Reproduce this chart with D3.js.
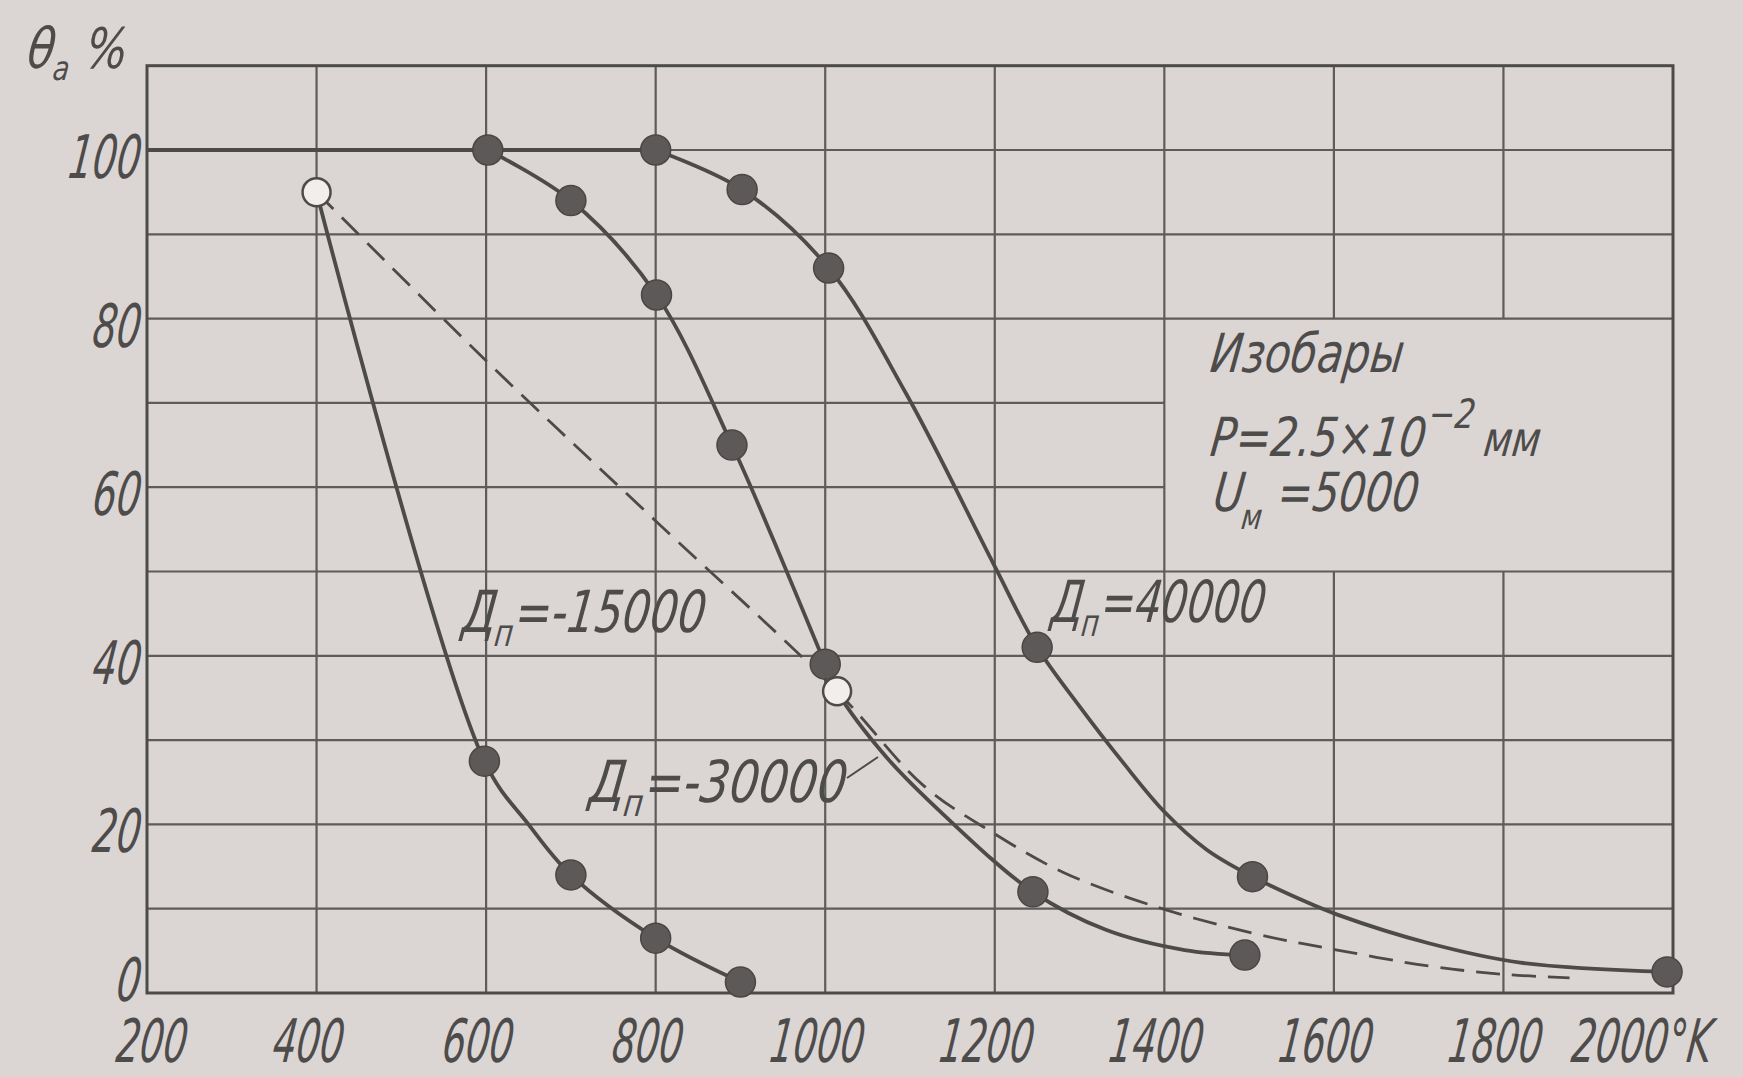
<!DOCTYPE html>
<html lang="ru">
<head>
<meta charset="UTF-8">
<title>Изобары θa</title>
<script src="https://d3js.org/d3.v7.min.js"></script>
<style>
  body { margin: 0; background: #dbd6d3; }
  svg text { font-family: "DejaVu Sans", sans-serif; font-style: italic; fill: #4e4b4b; }
</style>
</head>
<body>
<svg width="1743" height="1077"></svg>
<script>
// оси
const xTicks = [200, 400, 600, 800, 1000, 1200, 1400, 1600, 1800, 2000];
const xTickLabels = ["200", "400", "600", "800", "1000", "1200", "1400", "1600", "1800", "2000°K"];
const yTicks = [0, 20, 40, 60, 80, 100];
const yGrid = [10, 20, 30, 40, 50, 60, 70, 80, 90, 100];

// общая горизонталь 100 %
const plateau_T   = [200, 800];
const plateau_val = [100, 100];

// Дп = 40000
const lineA_T   = [800, 902, 1004, 1096, 1198, 1250, 1300, 1350, 1400, 1450, 1504, 1565, 1604, 1712, 1820, 1993];
const lineA_val = [100, 95.3, 86, 71, 51, 41, 34, 27.5, 21.5, 17, 13.8, 10.9, 9.3, 5.9, 3.6, 2.5];
const dotsA_T   = [800, 902, 1004, 1250, 1504, 1993];
const dotsA_val = [100, 95.3, 86, 41, 13.8, 2.5];

// средняя кривая
const lineB_T   = [602, 700, 801, 890, 940, 1000, 1014, 1072, 1137, 1245, 1331, 1424, 1495];
const lineB_val = [100, 94, 82.8, 65, 53.5, 39, 35.8, 28, 21.4, 12, 7.5, 5.1, 4.5];
const dotsB_T   = [602, 700, 801, 890, 1000, 1245, 1495];
const dotsB_val = [100, 94, 82.8, 65, 39, 12, 4.5];

// левая кривая
const lineC_T   = [400, 598, 650, 700, 800, 900];
const lineC_val = [95, 27.5, 20, 14, 6.5, 1.3];
const dotsC_T   = [598, 700, 800, 900];
const dotsC_val = [27.5, 14, 6.5, 1.3];

// пунктир
const lineD_T   = [400, 600, 800, 1014, 1116, 1198, 1281, 1388, 1504, 1604, 1712, 1802, 1878];
const lineD_val = [95, 75, 56, 35.8, 24.6, 19, 14.3, 10.3, 7.1, 5.1, 3.2, 2.2, 1.8];

// светлые точки
const open_T   = [400, 1014];
const open_val = [95, 35.8];

const ink = "#4d4a4a";
const gridInk = "#5e5b5b";
const svg = d3.select("svg");

const x = d3.scaleLinear().domain([200, 2000]).range([147, 1673]);
const y = d3.scaleLinear().domain([0, 100]).range([993, 150]);
const yTop = 110;
// поле без сетки под пояснением
const box = { t0: 1400, t1: 2000, v0: 50, v1: 80 };

svg.append("rect").attr("width", 1743).attr("height", 1077).attr("fill", "#dbd6d3");

// сетка
const grid = svg.append("g").attr("stroke", gridInk).attr("stroke-width", 2.2);
xTicks.slice(1, -1).forEach(t => {
    const spans = t > box.t0 ? [[0, box.v0], [box.v1, yTop]] : [[0, yTop]];
    spans.forEach(([a, b]) => grid.append("line")
        .attr("x1", x(t)).attr("x2", x(t)).attr("y1", y(a)).attr("y2", y(b)));
});
yGrid.forEach(v => {
    const end = (v > box.v0 && v < box.v1) ? box.t0 : 2000;
    grid.append("line")
        .attr("x1", x(200)).attr("x2", x(end)).attr("y1", y(v)).attr("y2", y(v));
});

// рамка
svg.append("rect")
    .attr("x", x(200)).attr("y", y(yTop))
    .attr("width", x(2000) - x(200)).attr("height", y(0) - y(yTop))
    .attr("fill", "none").attr("stroke", ink).attr("stroke-width", 3);

const line = d3.line().x(d => x(d[0])).y(d => y(d[1])).curve(d3.curveCatmullRom.alpha(0.5));
const zip = (a, b) => a.map((v, i) => [v, b[i]]);

[[plateau_T, plateau_val], [lineA_T, lineA_val], [lineB_T, lineB_val], [lineC_T, lineC_val]].forEach(([t, v]) => {
    svg.append("path").attr("d", line(zip(t, v)))
        .attr("fill", "none").attr("stroke", ink).attr("stroke-width", 3.8);
});

svg.append("path").attr("d", line(zip(lineD_T, lineD_val)))
    .attr("fill", "none").attr("stroke", ink).attr("stroke-width", 2.8)
    .attr("stroke-dasharray", "24 12");

[[dotsA_T, dotsA_val], [dotsB_T, dotsB_val], [dotsC_T, dotsC_val]].forEach(([t, v]) => {
    svg.append("g").selectAll("circle")
        .data(zip(t, v))
        .enter().append("circle")
        .attr("cx", d => x(d[0])).attr("cy", d => y(d[1])).attr("r", 15)
        .attr("fill", "#5d5959").attr("stroke", "#4a4646").attr("stroke-width", 1.5);
});

svg.append("g").selectAll("circle")
    .data(zip(open_T, open_val))
    .enter().append("circle")
    .attr("cx", d => x(d[0])).attr("cy", d => y(d[1])).attr("r", 14)
    .attr("fill", "#f1eeeb").attr("stroke", ink).attr("stroke-width", 2.5);

// текст: части [строка, сдвиг по вертикали, доля кегля]; узкий шрифт через scale
function txt(parts, px, py, w, size, anchor) {
    const t = svg.append("text")
        .attr("font-size", size)
        .attr("text-anchor", anchor || "start");
    let shift = 0;
    (typeof parts === "string" ? [[parts, 0, 1]] : parts).forEach(([s, dy, k]) => {
        t.append("tspan").attr("dy", dy - shift).attr("font-size", size * k).text(s);
        shift = dy;
    });
    const sx = w / t.node().getComputedTextLength();
    t.attr("transform", `translate(${px},${py}) skewX(-7) scale(${sx},1)`);
    return t;
}

// подписи осей
yTicks.forEach(v => {
    const s = String(v);
    txt(s, 139, y(v) + (v === 0 ? 8 : 28), s.length * 24, 60, "end");
});
xTicks.forEach((v, i) => {
    const s = xTickLabels[i];
    if (v === 2000) txt(s, 1640, 1062, 140, 60, "middle");
    else txt(s, x(v) - (v === 200 ? -3 : 10), 1062, s.length * 23.5, 60, "middle");
});

txt([["θ", 0, 1], ["a", 12, 0.6], [" %", 0, 1]], 26, 68, 100, 56);

// пояснение
txt("Изобары", 1209, 372, 193, 54);
txt([["P=2.5×10", 0, 1], ["−2", -28, 0.75], [" мм", 0, 0.9]], 1209, 456, 330, 54);
txt([["U", 0, 1], ["м", 18, 0.65], [" =5000", 0, 1]], 1212, 511, 205, 54);

// подписи кривых
txt([["Д", 0, 1], ["п", 14, 0.65], ["=-15000", 0, 1]], 461, 632, 243, 58);
txt([["Д", 0, 1], ["п", 14, 0.65], ["=-30000", 0, 1]], 588, 802, 257, 58);
svg.append("line")
    .attr("x1", 847).attr("y1", 778).attr("x2", 878).attr("y2", 757)
    .attr("stroke", ink).attr("stroke-width", 2);
txt([["Д", 0, 1], ["п", 14, 0.65], ["=40000", 0, 1]], 1050, 622, 214, 58);
</script>
</body>
</html>
